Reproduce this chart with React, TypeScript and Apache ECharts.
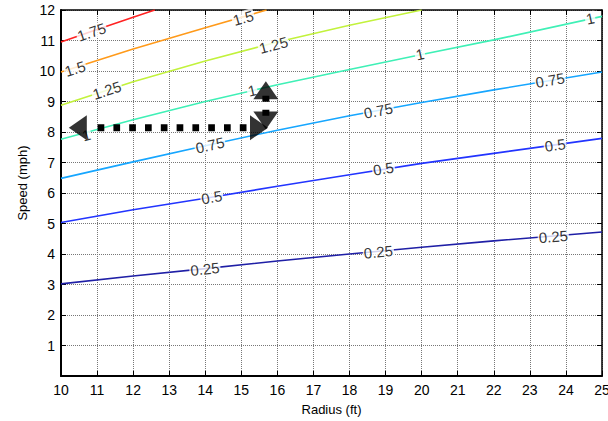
import React, { useEffect, useRef } from "react";
import * as echarts from "echarts";

// Contour levels and colours
const levels = ["0.25", "0.5", "0.75", "1", "1.25", "1.5", "1.75"];
const levelColors = ["#1f1fa6", "#2234ff", "#16a6ff", "#3ff0b6", "#c2f23c", "#ff9a1a", "#ff2222"];

// Radius (ft) / Speed (mph) points
const r025 = [10, 12, 14, 16, 18, 20, 22, 25];
const s025 = [3.02, 3.28, 3.52, 3.77, 4.0, 4.22, 4.43, 4.72];
const r050 = [10, 12, 14, 16, 18, 20, 22, 25];
const s050 = [5.03, 5.45, 5.83, 6.22, 6.6, 6.97, 7.3, 7.79];
const r075 = [10, 12, 14, 16, 18, 20, 22, 25];
const s075 = [6.48, 7.02, 7.55, 8.06, 8.53, 8.97, 9.38, 9.97];
const r100 = [10, 12, 14, 16, 18, 20, 22, 25];
const s100 = [7.76, 8.4, 9.0, 9.55, 10.05, 10.54, 11.02, 11.79];
const r125 = [10, 12, 14, 16, 18, 20];
const s125 = [8.88, 9.65, 10.33, 10.95, 11.5, 12.0];
const r150 = [10, 12, 14, 15.7];
const s150 = [9.97, 10.72, 11.42, 12.0];
const r175 = [10, 11, 12, 12.6];
const s175 = [10.95, 11.36, 11.76, 12.0];

const radiusSets = [r025, r050, r075, r100, r125, r150, r175];
const speedSets = [s025, s050, s075, s100, s125, s150, s175];

// Contour labels (inline, rotated along the line)
const labelText = ["0.25", "0.25", "0.25", "0.5", "0.5", "0.5", "0.75", "0.75", "0.75", "1", "1", "1", "1", "1.25", "1.25", "1.5", "1.5", "1.75"];
const labelR = [13.99, 18.8, 23.65, 14.18, 18.94, 23.7, 14.13, 18.8, 23.56, 10.7, 15.3, 19.95, 24.67, 11.27, 15.89, 10.39, 15.05, 10.85];
const labelS = [3.51, 4.07, 4.57, 5.86, 6.8, 7.57, 7.57, 8.7, 9.7, 7.9, 9.36, 10.55, 11.72, 9.37, 10.85, 10.08, 11.74, 11.28];
const labelRot = [6, 5.3, 4.7, 9.4, 8.9, 7.9, 12.6, 11, 9.5, 15, 13, 11.7, 12, 18, 14.7, 17.6, 16, 18.7];

// Annotation arrows (data coords)
const hLineR = [11.015, 15.15];
const hLineS = [8.14, 8.14];
const vLineR = [15.68, 15.68];
const vLineS = [8.53, 9.25];
const arrowR = [10.467, 15.49, 15.68, 15.68];
const arrowS = [8.14, 8.14, 9.37, 8.38];
const arrowRot = [90, -90, 0, 180];

const xTicks = { min: 10, max: 25, interval: 1 };
const yTicks = { min: 0, max: 12, interval: 1 };

const FONT = "'Liberation Sans', Arial, sans-serif";

export default function App() {
  const ref = useRef<HTMLDivElement>(null);
  useEffect(() => {
    if (!ref.current) return;
    const chart = echarts.init(ref.current, undefined, { renderer: "svg" });

    const contourSeries = radiusSets.map((rs, i) => ({
      type: "line",
      name: levels[i],
      data: rs.map((r, j) => [r, speedSets[i][j]]),
      showSymbol: false,
      symbol: "none",
      lineStyle: { color: levelColors[i], width: 1.6 },
      z: 2,
      clip: true,
      silent: true,
    }));

    const gridLine = { show: true, lineStyle: { color: "#777", type: [1, 1] as any, width: 1 } };

    chart.setOption({
      animation: false,
      grid: { left: 61, right: 6, top: 10, bottom: 45, containLabel: false, outerBoundsMode: "none" },
      xAxis: [
        {
          type: "value",
          min: xTicks.min,
          max: xTicks.max,
          interval: xTicks.interval,
          position: "bottom",
          name: "Radius (ft)",
          nameLocation: "middle",
          nameGap: 27,
          nameTextStyle: { fontFamily: FONT, fontSize: 13, color: "#000" },
          axisLine: { show: true, onZero: false, lineStyle: { color: "#000", width: 2 } },
          axisTick: { show: true, inside: true, length: 5, lineStyle: { color: "#000" } },
          axisLabel: { fontFamily: FONT, fontSize: 14, color: "#000", margin: 7, hideOverlap: false },
          splitLine: gridLine,
        },
        {
          type: "value",
          min: xTicks.min,
          max: xTicks.max,
          interval: xTicks.interval,
          position: "top",
          axisLine: { show: true, onZero: false, lineStyle: { color: "#000", width: 1.5 } },
          axisTick: { show: true, inside: true, length: 5, lineStyle: { color: "#000" } },
          axisLabel: { show: false },
          splitLine: { show: false },
        },
      ],
      yAxis: [
        {
          type: "value",
          min: yTicks.min,
          max: yTicks.max,
          interval: yTicks.interval,
          position: "left",
          axisLine: { show: true, onZero: false, lineStyle: { color: "#000", width: 2 } },
          axisTick: { show: true, inside: true, length: 5, lineStyle: { color: "#000" } },
          axisLabel: {
            fontFamily: FONT,
            fontSize: 14,
            color: "#000",
            margin: 6,
            formatter: (v: number) => (v === 0 ? "" : String(v)),
          },
          splitLine: gridLine,
        },
        {
          type: "value",
          min: yTicks.min,
          max: yTicks.max,
          interval: yTicks.interval,
          position: "right",
          axisLine: { show: true, onZero: false, lineStyle: { color: "#000", width: 1.5 } },
          axisTick: { show: true, inside: true, length: 5, lineStyle: { color: "#000" } },
          axisLabel: { show: false },
          splitLine: { show: false },
        },
      ],
      graphic: [
        {
          type: "text",
          x: 22,
          y: 183,
          rotation: Math.PI / 2,
          style: {
            text: "Speed (mph)",
            fontFamily: FONT,
            fontSize: 13,
            fill: "#000",
            align: "center",
            verticalAlign: "middle",
          },
        },
      ],
      series: [
        ...contourSeries,
        {
          type: "scatter",
          name: "labels",
          symbolSize: 0,
          z: 3,
          silent: true,
          data: labelText.map((t, i) => ({
            value: [labelR[i], labelS[i]],
            label: {
              show: true,
              formatter: t,
              rotate: labelRot[i],
              position: "inside",
              fontFamily: FONT,
              fontSize: 15,
              color: "#000",
              backgroundColor: "#fff",
              padding: [0, 1, -1, 1],
            },
          })),
        },
        {
          type: "line",
          name: "hArrow",
          data: hLineR.map((r, i) => [r, hLineS[i]]),
          symbol: "none",
          lineStyle: { color: "#000", width: 7, type: [6.7, 9.1] as any, cap: "butt" },
          z: 5,
          silent: true,
        },
        {
          type: "line",
          name: "vArrow",
          data: vLineR.map((r, i) => [r, vLineS[i]]),
          symbol: "none",
          lineStyle: { color: "#000", width: 7, type: [6, 8] as any, cap: "butt" },
          z: 5,
          silent: true,
        },
        {
          type: "scatter",
          name: "arrowHeads",
          symbol: "triangle",
          symbolSize: [25, 18],
          z: 6,
          silent: true,
          itemStyle: { color: "#000" },
          data: arrowR.map((r, i) => ({
            value: [r, arrowS[i]],
            symbolRotate: arrowRot[i],
          })),
        },
      ],
    });
    return () => chart.dispose();
  }, []);

  return (
    <div
      ref={ref}
      style={{ position: "absolute", left: 0, top: 0, width: 608, height: 421, background: "#fff" }}
    />
  );
}
